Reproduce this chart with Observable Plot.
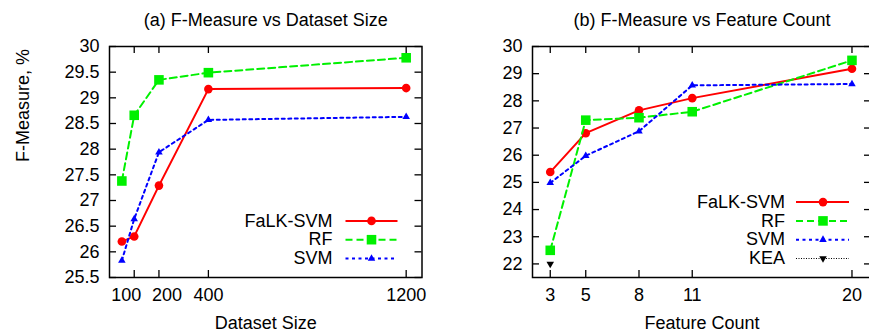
<!DOCTYPE html>
<html><head><meta charset="utf-8">
<script src="https://cdn.jsdelivr.net/npm/d3@7"></script>
<script src="https://cdn.jsdelivr.net/npm/@observablehq/plot@0.6"></script>
<style>
html,body{margin:0;padding:0;background:#fff;overflow:hidden;}
#wrap{position:relative;width:869px;height:331px;overflow:hidden;}
#wrap svg{position:absolute;top:0;max-width:none;}
</style></head><body><div id="wrap"></div>
<script>
// ---- data: panel (a) ----
const sizes = [50, 100, 200, 400, 1200];
const sizeTicks = [100, 200, 400, 1200];
const sizeYTicks = [25.5, 26, 26.5, 27, 27.5, 28, 28.5, 29, 29.5, 30];
const falkBySize = [26.2, 26.3, 27.29, 29.17, 29.19];
const rfBySize = [27.38, 28.66, 29.35, 29.49, 29.78];
const svmBySize = [25.83, 26.64, 27.94, 28.57, 28.63];

// ---- data: panel (b) ----
const features = [3, 5, 8, 11, 20];
const featTicks = [3, 5, 8, 11, 20];
const featYTicks = [22, 23, 24, 25, 26, 27, 28, 29, 30];
const falkByFeat = [25.38, 26.81, 27.65, 28.1, 29.18];
const rfByFeat = [22.5, 27.29, 27.38, 27.6, 29.49];
const svmByFeat = [24.98, 25.98, 26.88, 28.57, 28.62];
const keaFeatures = [3];
const keaByFeat = [22.0];

const seriesNames = ["FaLK-SVM", "RF", "SVM", "KEA"];

// ---- styles ----
const look = {
  "FaLK-SVM": {color: "#ff0000", dash: null, width: 2, symbol: "circle", r: 4.3},
  "RF": {color: "#00f000", dash: "7,4", width: 2, symbol: "square", r: 5.4},
  "SVM": {color: "#0000ff", dash: "3,3.5", width: 2, symbol: "triangle", r: 2.8},
  "KEA": {color: "#000000", dash: "1,1.5", width: 1, symbol: "triangle", r: 2.8, rotate: 180}
};
const FONT = "'Liberation Sans', Arial, Helvetica, sans-serif";
const FS = 18;
const fmt = d => String(d);

function rowsOf(xs, ys) { return xs.map((x, i) => ({x, y: ys[i]})); }

function panel(cfg) {
  const {width, height, marginLeft, marginRight, marginTop, marginBottom} = cfg;
  const fw = width - marginLeft - marginRight;
  const fh = height - marginTop - marginBottom;
  const marks = [
    Plot.frame({stroke: "black", strokeWidth: 1.5}),
    Plot.tickX(cfg.xTicks, {x: d => d, insetTop: fh - 7, stroke: "black", strokeWidth: 1.3}),
    Plot.tickX(cfg.xTicks, {x: d => d, insetBottom: fh - 7, stroke: "black", strokeWidth: 1.3}),
    Plot.tickY(cfg.yTicks, {y: d => d, insetRight: fw - 7, stroke: "black", strokeWidth: 1.3}),
    Plot.tickY(cfg.yTicks, {y: d => d, insetLeft: fw - 7, stroke: "black", strokeWidth: 1.3}),
    Plot.axisY({ticks: cfg.yTicks, tickSize: 0, tickPadding: 10, tickFormat: fmt, label: null, fill: "black"}),
    Plot.text([cfg.title], {frameAnchor: "top", dy: 25 - marginTop, lineAnchor: "bottom", fill: "black"}),
    Plot.text([cfg.xLabel], {frameAnchor: "bottom", dy: 51, lineAnchor: "bottom", fill: "black"})
  ];
  // x tick labels, with optional per-label nudges (as in the original figure)
  for (const t of cfg.xTicks) {
    const nudge = (cfg.xLabelNudge && cfg.xLabelNudge[t]) || 0;
    marks.push(Plot.axisX({ticks: [t], tickSize: 0, tickPadding: 11, tickFormat: fmt, label: null, fill: "black", dx: nudge}));
  }
  if (cfg.yLabel) {
    marks.push(Plot.text([cfg.yLabel], {frameAnchor: "left", rotate: -90, dx: 28 - marginLeft, dy: 0, lineAnchor: "bottom", fill: "black"}));
  }
  for (const s of cfg.series) {
    const L = look[s.name];
    const rows = rowsOf(s.xs, s.ys);
    if (rows.length > 1) {
      marks.push(Plot.line(rows, {x: "x", y: "y", stroke: L.color, strokeWidth: L.width, strokeDasharray: L.dash}));
    }
    marks.push(Plot.dot(rows, {x: "x", y: "y", symbol: L.symbol, r: L.r, fill: L.color, stroke: "none", rotate: L.rotate || 0}));
  }
  const svg = Plot.plot({
    width, height, marginLeft, marginRight, marginTop, marginBottom,
    style: {fontFamily: FONT, fontSize: FS + "px", background: "white", color: "black", overflow: "visible"},
    x: {domain: cfg.xDomain},
    y: {domain: cfg.yDomain},
    marks
  });
  // legend (inside frame, bottom-right)
  const fr = width - marginRight, fb = height - marginBottom;
  const g = d3.select(svg).append("g").attr("font-family", FONT).attr("font-size", FS);
  const n = cfg.series.length;
  cfg.series.forEach((s, i) => {
    const L = look[s.name];
    const cy = fb - 18.5 - 18.8 * (n - 1 - i);
    g.append("text").attr("x", fr - cfg.legText).attr("y", cy).attr("dy", "0.32em")
      .attr("text-anchor", "end").attr("fill", "black").text(s.name);
    g.append("line").attr("x1", fr - cfg.legL1).attr("x2", fr - cfg.legL2).attr("y1", cy).attr("y2", cy)
      .attr("stroke", L.color).attr("stroke-width", L.width).attr("stroke-dasharray", L.dash);
    const sym = {circle: d3.symbolCircle, square: d3.symbolSquare, triangle: d3.symbolTriangle}[L.symbol];
    g.append("path").attr("d", d3.symbol(sym, Math.PI * L.r * L.r)())
      .attr("transform", `translate(${fr - cfg.legM},${cy}) rotate(${L.rotate || 0})`)
      .attr("fill", L.color);
  });
  return svg;
}

const wrap = document.getElementById("wrap");

const left = panel({
  width: 440, height: 331, marginLeft: 109, marginRight: 18.5, marginTop: 46, marginBottom: 54,
  xDomain: [0, 1264], yDomain: [25.5, 30], xTicks: sizeTicks, yTicks: sizeYTicks,
  xLabelNudge: {100: -8, 200: 8},
  title: "(a) F-Measure vs Dataset Size", xLabel: "Dataset Size", yLabel: "F-Measure, %",
  legText: 89, legL1: 76, legL2: 24, legM: 50,
  series: [
    {name: seriesNames[0], xs: sizes, ys: falkBySize},
    {name: seriesNames[1], xs: sizes, ys: rfBySize},
    {name: seriesNames[2], xs: sizes, ys: svmBySize}
  ]
});
left.style.left = "0px";
wrap.appendChild(left);

const right = panel({
  width: 431, height: 331, marginLeft: 92, marginRight: 0, marginTop: 46, marginBottom: 54,
  xDomain: [2, 21.1], yDomain: [21.5, 30], xTicks: featTicks, yTicks: featYTicks,
  title: "(b) F-Measure vs Feature Count", xLabel: "Feature Count", yLabel: null,
  legText: 86, legL1: 75, legL2: 22, legM: 48,
  series: [
    {name: seriesNames[0], xs: features, ys: falkByFeat},
    {name: seriesNames[1], xs: features, ys: rfByFeat},
    {name: seriesNames[2], xs: features, ys: svmByFeat},
    {name: seriesNames[3], xs: keaFeatures, ys: keaByFeat}
  ]
});
right.style.left = "440px";
wrap.appendChild(right);
</script>
</body></html>
